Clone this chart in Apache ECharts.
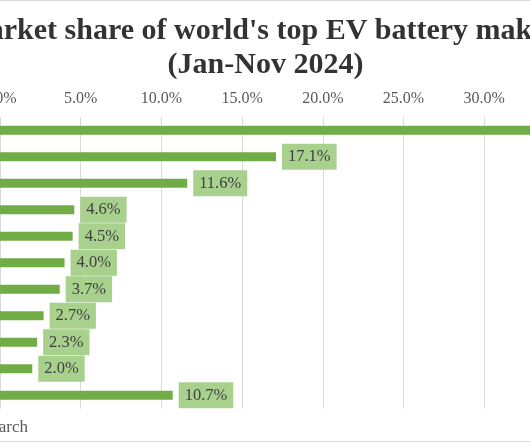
<!DOCTYPE html>
<html>
<head>
<meta charset="utf-8">
<script src="https://cdn.jsdelivr.net/npm/echarts@6/dist/echarts.min.js"></script>
<style>
html,body{margin:0;padding:0;width:530px;height:442px;overflow:hidden;background:#fff;}
#chart{position:absolute;left:-115px;top:0;width:761px;height:442px;}
</style>
</head>
<body>
<div id="chart"></div>
<script>
const titleText = "Market share of world's top EV battery makers\n(Jan-Nov 2024)";
const categories = ["CATL","BYD","LGES","CALB","SK On","Panasonic","Samsung SDI","Gotion","EVE","Sunwoda","Others"];
const shares = [37.2, 17.1, 11.6, 4.6, 4.5, 4.0, 3.7, 2.7, 2.3, 2.0, 10.7];
const sourceText = "Source: SNE Research";

const serif = "'Liberation Serif','Times New Roman',serif";
const chart = echarts.init(document.getElementById('chart'));
chart.setOption({
  animation: false,
  backgroundColor: '#fff',
  title: {
    text: titleText,
    left: 'center',
    top: 9,
    textStyle: {fontFamily: serif, fontWeight: 'bold', fontSize: 30, color: '#333', lineHeight: 34}
  },
  grid: {left: 115, top: 117, width: 645.6, height: 291.5, containLabel: false, outerBoundsMode: 'none'},
  xAxis: {
    type: 'value', position: 'top', min: 0, max: 40, interval: 5,
    axisLine: {show: false}, axisTick: {show: false},
    splitLine: {lineStyle: {color: '#d9d9d9', width: 1}},
    axisLabel: {formatter: v => v.toFixed(1) + '%', fontFamily: serif, fontSize: 16, color: '#595959', margin: 10}
  },
  yAxis: {
    type: 'category', data: categories, inverse: true,
    axisLine: {show: false}, axisTick: {show: false},
    axisLabel: {fontFamily: serif, fontSize: 16, color: '#595959'}
  },
  series: [{
    type: 'bar', data: shares, barWidth: 9,
    itemStyle: {color: '#70ad47'},
    label: {
      show: true, position: 'right', distance: 6,
      formatter: p => p.value.toFixed(1) + '%',
      backgroundColor: '#a9d18e', padding: [5, 6, 4, 6],
      fontFamily: serif, fontSize: 16.5, color: '#404040'
    }
  }],
  graphic: [
    {type: 'rect', shape: {x: 0.5, y: 0.5, width: 760, height: 441}, style: {fill: 'none', stroke: '#d9d9d9', lineWidth: 1}, silent: true},
    {type: 'text', x: 143, y: 428, style: {text: sourceText, fontFamily: serif, fontSize: 17, fill: '#595959', textAlign: 'right', textVerticalAlign: 'middle'}}
  ]
});
</script>
</body>
</html>
